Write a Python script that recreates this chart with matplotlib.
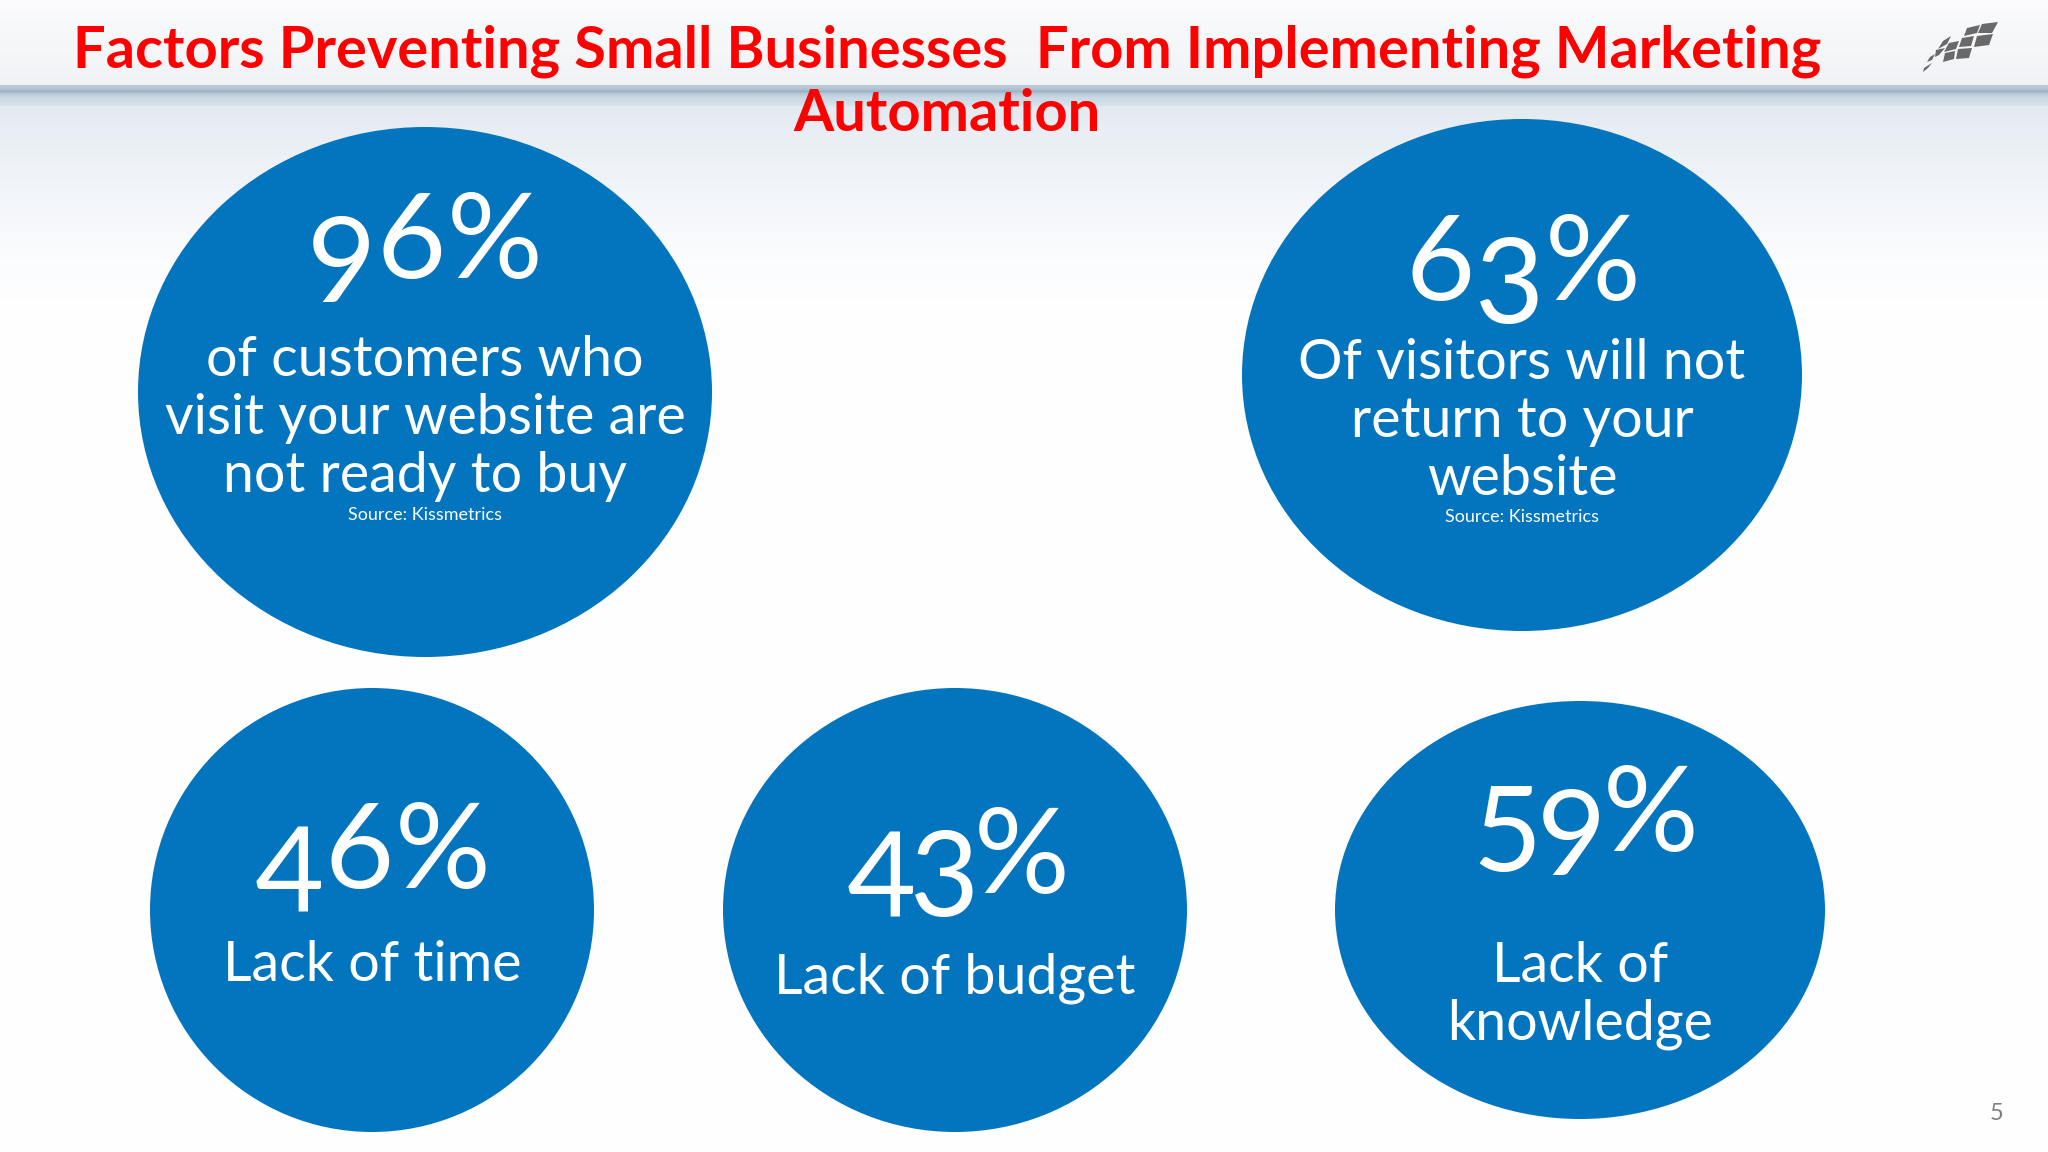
import numpy as np
import matplotlib
matplotlib.use("Agg")
import matplotlib.pyplot as plt
from matplotlib.patches import Ellipse, Polygon
from matplotlib.colors import LinearSegmentedColormap

W, H = 2048, 1152
title_lines = ["Factors Preventing Small Businesses  From Implementing Marketing", "Automation"]
percent_values = [96, 63, 46, 43, 59]
captions = [
    ["of customers who", "visit your website are", "not ready to buy"],
    ["Of visitors will not", "return to your", "website"],
    ["Lack of time"],
    ["Lack of budget"],
    ["Lack of", "knowledge"],
]
sources = ["Source: Kissmetrics", "Source: Kissmetrics", None, None, None]
page_number = "5"

# layout: centre x, centre y, half width, half height, number x, number baseline,
# number tracking, caption baselines, source baseline
layout = [
    (425, 392, 287, 265, 425, 278, 0.005, [376, 434, 492], 520),
    (1522, 375, 280, 256, 1523, 300, 0.0, [379, 437, 495], 522),
    (372, 910, 222, 222, 373, 888, 0.005, [981], None),
    (955, 910, 232, 222, 955, 893, -0.05, [993], None),
    (1580, 910, 245, 209, 1583, 851, -0.035, [982, 1040], None),
]
BLUE = "#0275be"
FONT = "Lato"

fig = plt.figure(figsize=(W / 100, H / 100), dpi=100)
ax = fig.add_axes([0, 0, 1, 1])
ax.set_xlim(0, W)
ax.set_ylim(H, 0)
ax.axis("off")

# slide background
stops = [(0, "#fbfbfc"), (84, "#f0f3f6"), (85, "#bccbd9"), (89, "#b0c1d1"), (91, "#9cb1c5"),
         (93, "#b6c8d8"), (97, "#c8d8e4"), (104, "#d5e1ea"), (107, "#e3eaf0"), (130, "#e8eef3"),
         (200, "#f3f6fa"), (260, "#fbfcfe"), (300, "#fefeff"), (1152, "#ffffff")]
cmap = LinearSegmentedColormap.from_list("bg", [(p / H, c) for p, c in stops], N=1152)
ax.imshow(np.linspace(0, 1, H)[:, None], cmap=cmap, aspect="auto", extent=(0, W, H, 0), vmin=0, vmax=1, zorder=0)

# logo
cells = [
    [(1982, 24), (1998, 22), (1992, 33), (1978, 33)],
    [(1967, 28), (1980, 25), (1977, 33), (1964, 36)],
    [(1977, 36), (1993, 34), (1989, 45), (1974, 47)],
    [(1962, 38), (1974, 36), (1971, 46), (1959, 47)],
    [(1958, 49), (1972, 48), (1969, 58), (1956, 59)],
    [(1945, 53), (1955, 51), (1954, 59), (1943, 62)],
    [(1949, 43), (1959, 41), (1956, 49), (1944, 52)],
    [(1943, 41), (1951, 36), (1947, 44), (1938, 49)],
    [(1936, 50), (1945, 48), (1939, 55), (1935, 57)],
    [(1930, 57), (1935, 54), (1932, 60), (1927, 62)],
    [(1924, 68), (1932, 63), (1928, 68), (1923, 72)],
]
for pts in cells:
    ax.add_patch(Polygon(pts, closed=True, fc="#696969", ec="none", zorder=2))

# title
for line, y in zip(title_lines, [68, 131]):
    ax.text(947, y, line, color="#ff0000", fontsize=41.7, fontweight="bold", family=FONT, ha="center", va="baseline", zorder=5)

renderer = fig.canvas.get_renderer()
DROPS = {"3": 0.19, "4": 0.20, "5": 0.17, "9": 0.20}


def draw_number(value, cx, baseline, size, tracking):
    s = f"{value}%"
    widths = []
    artists = []
    px_em = size / 0.72
    for ch in s:
        t = ax.text(0, 0, ch, color="white", fontsize=size, family=FONT, ha="left", va="baseline", zorder=6)
        widths.append(t.get_window_extent(renderer).width + tracking * px_em)
        artists.append(t)
    x = cx - sum(widths) / 2
    for ch, t, w in zip(s, artists, widths):
        t.set_position((x, baseline + DROPS.get(ch, 0) * px_em))
        x += w


for value, lines, src, (cx, cy, rx, ry, nx, ny, track, caps, src_y) in zip(percent_values, captions, sources, layout):
    ax.add_patch(Ellipse((cx, cy), 2 * rx, 2 * ry, fc=BLUE, ec="none", zorder=3))
    draw_number(value, nx, ny, 86, track)
    for line, y in zip(lines, caps):
        ax.text(cx, y, line, color="white", fontsize=40, family=FONT, ha="center", va="baseline", zorder=6)
    if src:
        ax.text(cx, src_y, src, color="white", fontsize=13, family=FONT, ha="center", va="baseline", zorder=6)

ax.text(1997, 1120, page_number, color="#7f7f7f", fontsize=17, family=FONT, ha="center", va="baseline", zorder=6)

fig.savefig("out.png", dpi=100)
